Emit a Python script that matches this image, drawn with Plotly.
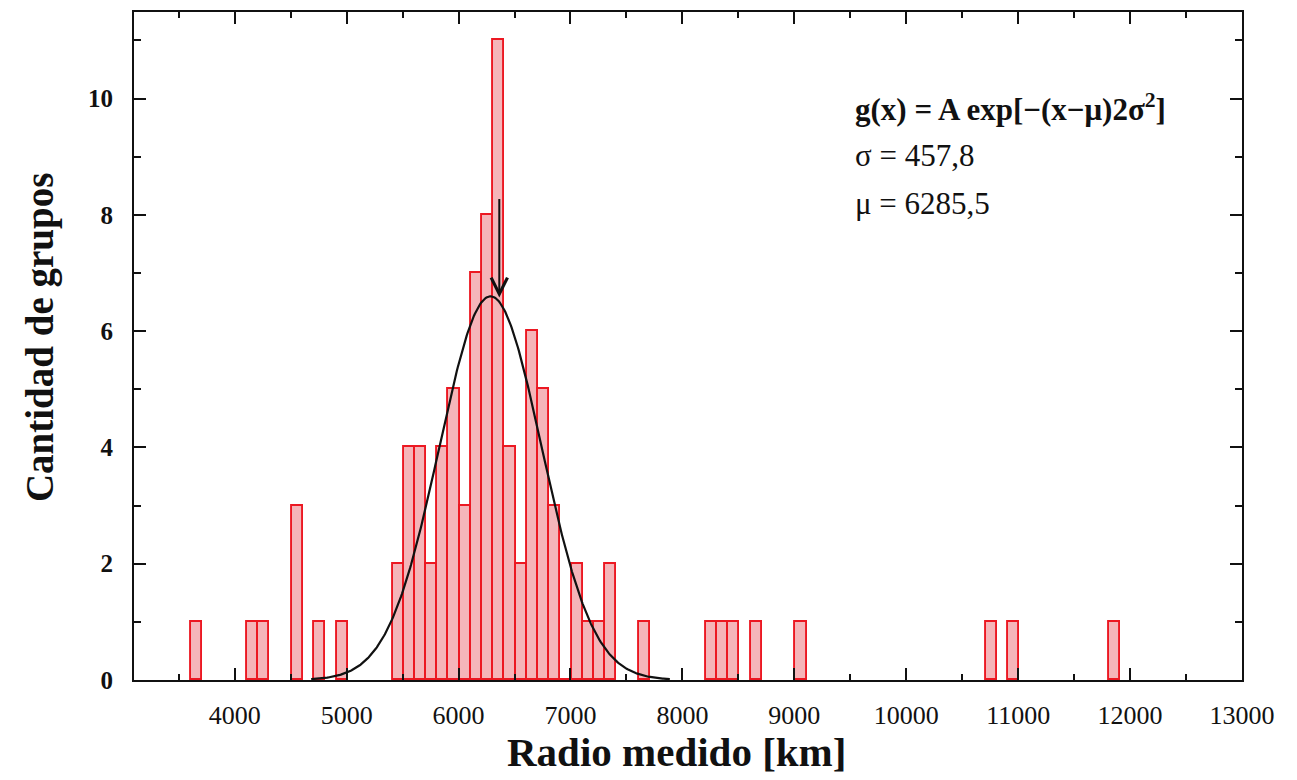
import numpy as np
import plotly.graph_objects as go

# ---- data ----
bin_left = [3610, 4110, 4210, 4510, 4710, 4910,
            5410, 5510, 5610, 5710, 5810, 5910, 6010, 6110, 6210, 6310,
            6410, 6510, 6610, 6710, 6810, 6910, 7010, 7110, 7210, 7310,
            7610, 8210, 8310, 8410, 8610, 9010, 10710, 10910, 11810]
counts = [1, 1, 1, 3, 1, 1,
          2, 4, 4, 2, 4, 5, 3, 7, 8, 11,
          4, 2, 6, 5, 3, 0, 2, 1, 1, 2,
          1, 1, 1, 1, 1, 1, 1, 1, 1]
bin_width = 100

fit_A = 6.6
fit_mu = 6285.5
fit_sigma = 457.8

arrow_x = 6364
arrow_from = 8.3
arrow_to = 6.58

x_tickvals = [4000, 5000, 6000, 7000, 8000, 9000, 10000, 11000, 12000, 13000]
y_tickvals = [0, 2, 4, 6, 8, 10]

# ---- figure ----
centers = [b + bin_width / 2 for b in bin_left]
xs = np.linspace(fit_mu - 3.5 * fit_sigma, fit_mu + 3.5 * fit_sigma, 400)
ys = fit_A * np.exp(-((xs - fit_mu) ** 2) / (2 * fit_sigma ** 2))

FONT = "Liberation Serif"
INK = "#111111"

fig = go.Figure()
fig.add_trace(go.Bar(
    x=centers, y=counts, width=bin_width,
    marker=dict(color="#f5b5b9", line=dict(color="#ec1822", width=1.9)),
    showlegend=False,
))
fig.add_trace(go.Scatter(
    x=xs, y=ys, mode="lines",
    line=dict(color=INK, width=2.2),
    showlegend=False,
))

fig.add_annotation(
    x=arrow_x, y=arrow_to, ax=arrow_x, ay=arrow_from,
    xref="x", yref="y", axref="x", ayref="y",
    showarrow=True, arrowhead=5, arrowsize=1.6, arrowwidth=2,
    arrowcolor=INK, text="",
)

labels = [
    ("g(x) = A exp[−(x−μ)2σ<sup>2</sup>]", 0.8570, "bold"),
    ("σ = 457,8", 0.7850, "normal"),
    ("μ = 6285,5", 0.7130, "normal"),
]
for txt, yp, w in labels:
    fig.add_annotation(
        x=0.6489, y=yp, xref="paper", yref="paper",
        xanchor="left", yanchor="middle", showarrow=False,
        text=txt, font=dict(family=FONT, size=31, color=INK, weight=w),
    )

fig.add_annotation(
    x=0.4892, y=-0.1075, xref="paper", yref="paper",
    xanchor="center", yanchor="middle", showarrow=False,
    text="Radio medido [km]",
    font=dict(family=FONT, size=41, color=INK, weight="bold"),
)
fig.add_annotation(
    x=-0.0848, y=0.5119, xref="paper", yref="paper",
    xanchor="center", yanchor="middle", showarrow=False, textangle=-90,
    text="Cantidad de grupos",
    font=dict(family=FONT, size=39, color=INK, weight="bold"),
)

fig.update_layout(
    width=1289, height=772,
    margin=dict(l=126, r=55, t=2, b=100),
    paper_bgcolor="white", plot_bgcolor="white",
    bargap=0,
    xaxis=dict(
        range=[3100, 13000], tickvals=x_tickvals,
        ticktext=[str(v) for v in x_tickvals],
        showgrid=False, zeroline=False,
        showline=True, linecolor=INK, linewidth=2, mirror="ticks",
        ticks="inside", ticklen=12, tickwidth=2, tickcolor=INK,
        minor=dict(dtick=500, tick0=3000, ticks="inside", ticklen=6,
                   tickwidth=2, tickcolor=INK, showgrid=False),
        tickfont=dict(family=FONT, size=26, color=INK),
        ticklabelstandoff=11,
    ),
    yaxis=dict(
        range=[0, 11.49], tickvals=y_tickvals,
        showgrid=False, zeroline=False,
        showline=True, linecolor=INK, linewidth=2, mirror="ticks",
        ticks="inside", ticklen=12, tickwidth=2, tickcolor=INK,
        minor=dict(dtick=1, tick0=0, ticks="inside", ticklen=7,
                   tickwidth=2, tickcolor=INK, showgrid=False),
        tickfont=dict(family=FONT, size=25, color=INK, weight="bold"),
        ticklabelstandoff=14,
    ),
)

fig.write_html("out.html")
